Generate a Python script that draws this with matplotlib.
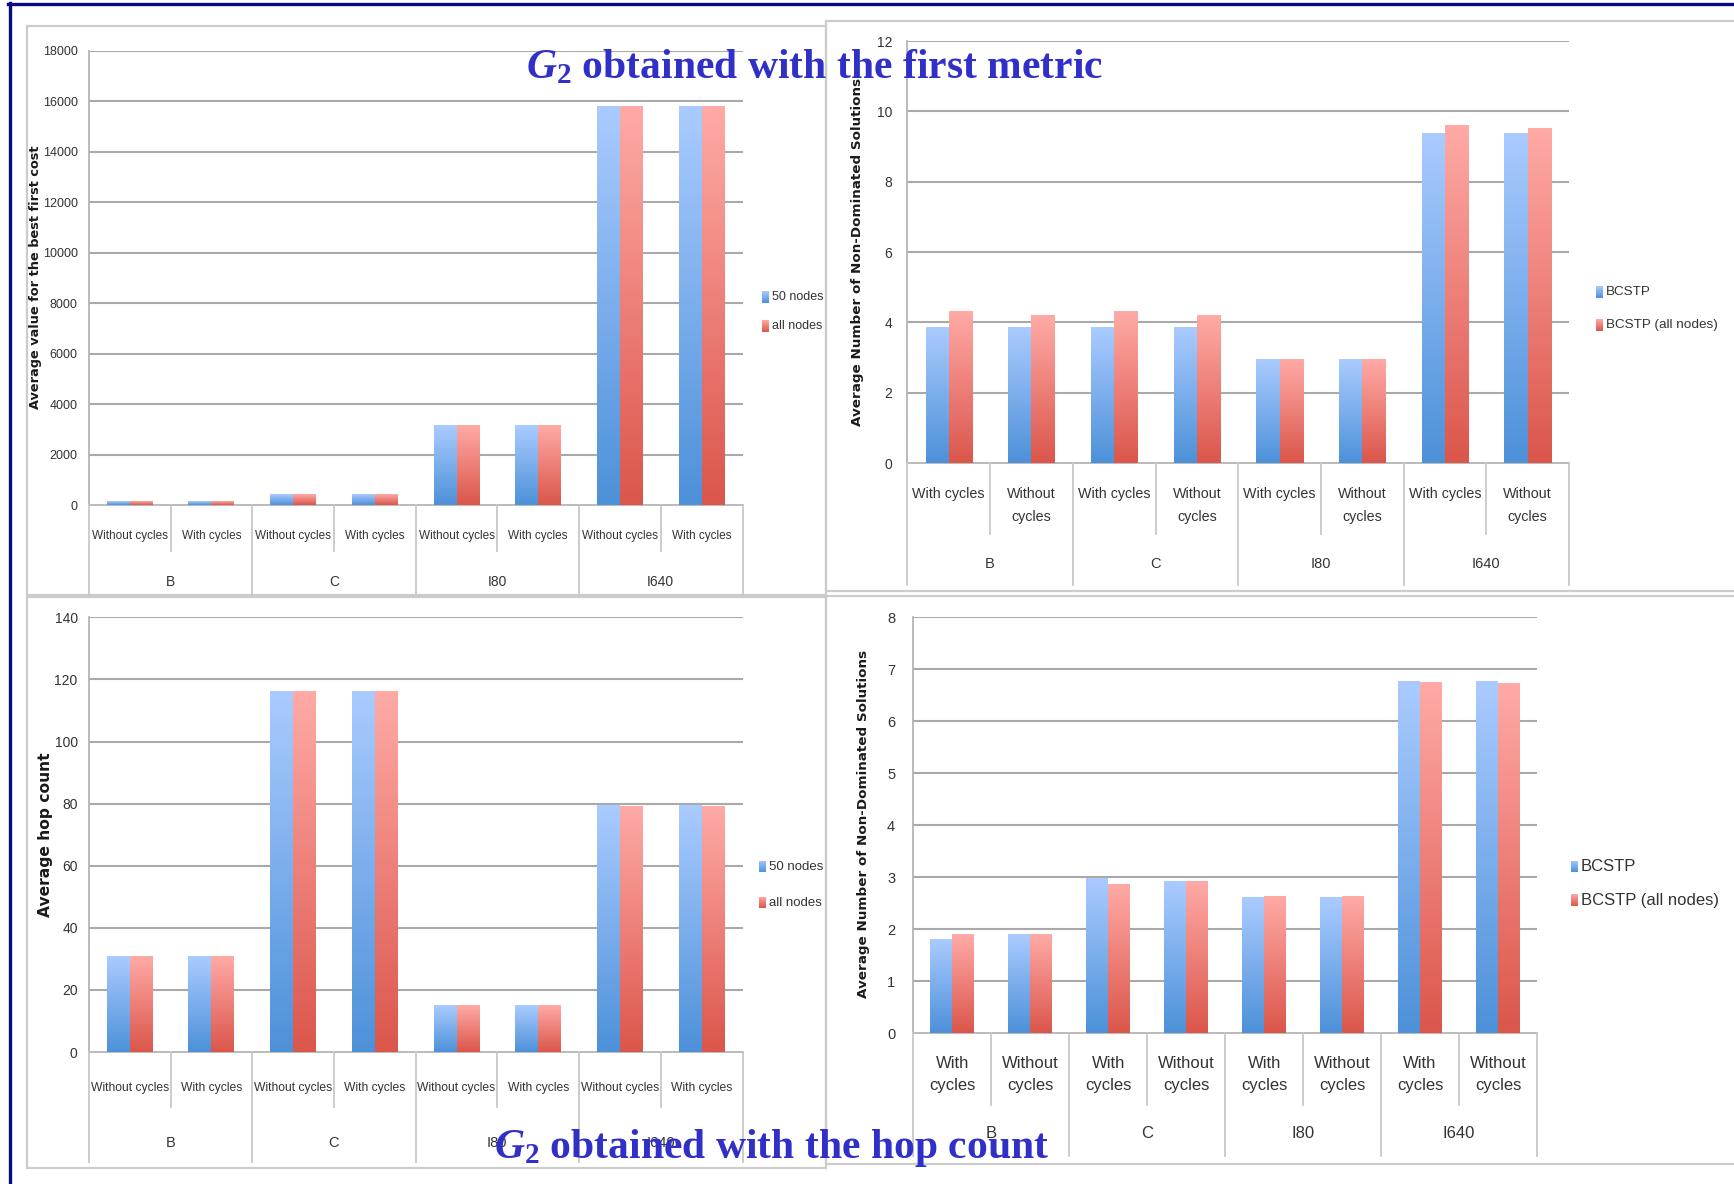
import numpy as np
import matplotlib.pyplot as plt
import matplotlib.colors as mcolors
from matplotlib.lines import Line2D
from matplotlib.patches import Rectangle
from matplotlib.transforms import blended_transform_factory

plt.rcParams['mathtext.fontset'] = 'custom'
plt.rcParams['mathtext.it'] = 'Liberation Serif:italic:bold'
plt.rcParams['mathtext.rm'] = 'Liberation Serif:bold'

W, H = 1734, 1184

groups = ['B', 'C', 'I80', 'I640']
cats_without_first = ['Without cycles', 'With cycles'] * 4
cats_with_first = ['With cycles', 'Without\ncycles'] * 4
cats_with_first_wrapped = ['With\ncycles', 'Without\ncycles'] * 4

# average value of the best first cost
cost_50_nodes = [120, 120, 400, 400, 3140, 3140, 15800, 15800]
cost_all_nodes = [120, 120, 400, 400, 3140, 3140, 15800, 15800]

# non-dominated solutions, G2 from the first metric
nd_first_bcstp = [3.86, 3.86, 3.86, 3.86, 2.94, 2.94, 9.36, 9.36]
nd_first_bcstp_all = [4.30, 4.19, 4.30, 4.19, 2.94, 2.94, 9.59, 9.52]

# average hop count
hop_50_nodes = [30.7, 30.7, 116.2, 116.2, 15.0, 15.0, 79.5, 79.5]
hop_all_nodes = [30.7, 30.7, 116.1, 116.1, 15.0, 15.0, 78.9, 78.9]

# non-dominated solutions, G2 from the hop count
nd_hop_bcstp = [1.79, 1.89, 2.97, 2.92, 2.60, 2.60, 6.76, 6.77]
nd_hop_bcstp_all = [1.89, 1.89, 2.86, 2.92, 2.62, 2.62, 6.74, 6.72]

BLUE = ('#aacbff', '#4d91d9')
RED = ('#ffaaa6', '#db564b')
SANS = ['Liberation Sans', 'DejaVu Sans']


def fx(px):
    return px / W


def fy(py):
    return 1 - py / H


def gradient(top, bottom, n=128):
    t = np.linspace(0, 1, n)[:, None]
    a = np.array(mcolors.to_rgb(top))
    b = np.array(mcolors.to_rgb(bottom))
    return (a * (1 - t) + b * t)[:, None, :]


def draw_panel(fig, p):
    left, top, right, bottom = p['axes']
    ax = fig.add_axes([fx(left), fy(bottom), (right - left) / W, (bottom - top) / H])
    ax.set_facecolor('none')

    fl, ft, fr, fb = p['frame']
    fig.add_artist(Rectangle((fx(fl), fy(fb)), (fr - fl) / W, (fb - ft) / H,
                             transform=fig.transFigure, fill=False,
                             edgecolor='#cccccc', lw=1.6, zorder=0))

    ticks = np.arange(0, p['ymax'] + p['ystep'] / 2, p['ystep'])
    for yt in ticks[1:]:
        ax.axhline(yt, color='#a9a9a9', lw=1.5, zorder=1)

    w = 0.28
    for i in range(8):
        xc = i + 0.5
        for k, (vals, col) in enumerate(zip(p['values'], (BLUE, RED))):
            x0 = xc - w if k == 0 else xc
            ax.imshow(gradient(*col), extent=[x0, x0 + w, 0, vals[i]],
                      aspect='auto', origin='upper', interpolation='bilinear',
                      zorder=3)

    ax.set_xlim(0, 8)
    ax.set_ylim(0, p['ymax'])
    ax.set_xticks([])
    ax.set_yticks(ticks)
    ax.set_yticklabels([f'{t:g}' for t in ticks])
    ax.tick_params(axis='y', length=0, pad=p['ypad'], labelsize=p['ytick_size'],
                   labelcolor='#333333')
    for lab in ax.get_yticklabels():
        lab.set_family(SANS)
    for side in ('top', 'right'):
        ax.spines[side].set_visible(False)
    for side in ('left', 'bottom'):
        ax.spines[side].set_color('#b5b5b5')
        ax.spines[side].set_linewidth(1.3)

    # two-level category axis below the plot
    tr = blended_transform_factory(ax.transData, fig.transFigure)
    for i in range(9):
        end = p['group_bottom'] if i % 2 == 0 else p['inner_bottom']
        fig.add_artist(Line2D([i, i], [fy(bottom), fy(end)], transform=tr,
                              color='#c8c8c8', lw=1.3))
    for i, cat in enumerate(p['cats']):
        for line, yrow in zip(cat.split('\n'), p['cat_rows']):
            fig.text(i + 0.5, fy(yrow), line, transform=tr, ha='center', va='center',
                     fontsize=p['cat_size'], family=SANS, color='#333333')
    for g, name in enumerate(groups):
        fig.text(2 * g + 1, fy(p['group_y']), name, transform=tr, ha='center',
                 va='center', fontsize=p['group_size'], family=SANS, color='#333333')

    lx, ly = p['ylabel_xy']
    fig.text(fx(lx), fy(ly), p['ylabel'], rotation=90, ha='center', va='center',
             fontsize=p['ylabel_size'], weight='bold', family='DejaVu Sans',
             color='#1a1a1a')

    # legend swatches
    for name, yl, col in zip(p['names'], p['legend_y'], (BLUE, RED)):
        sq = fig.add_axes([fx(p['legend_x']), fy(yl + 6), 7 / W, 12 / H])
        sq.imshow(gradient(*col), aspect='auto')
        sq.axis('off')
        fig.text(fx(p['legend_x'] + 10), fy(yl), name, ha='left', va='center',
                 fontsize=p['legend_size'], family=SANS, color='#333333')
    return ax


panels = [
    dict(axes=(88.8, 50.9, 742.5, 505.2), frame=(26.6, 26, 826, 595),
         ymax=18000, ystep=2000, values=(cost_50_nodes, cost_all_nodes),
         cats=cats_without_first, cat_rows=[535.8], group_y=581.7,
         inner_bottom=551, group_bottom=595,
         ylabel='Average value for the best first cost', ylabel_xy=(36, 277),
         ylabel_size=9.3, names=['50 nodes', 'all nodes'], legend_x=762,
         legend_y=[296.6, 326.4], legend_size=9,
         ytick_size=9, ypad=8, cat_size=8.5, group_size=10),
    dict(axes=(907.4, 41, 1569, 463), frame=(826, 21, 1745, 591),
         ymax=12, ystep=2, values=(nd_first_bcstp, nd_first_bcstp_all),
         cats=cats_with_first, cat_rows=[493.7, 516.6], group_y=564.5,
         inner_bottom=534, group_bottom=585,
         ylabel='Average Number of Non-Dominated Solutions', ylabel_xy=(858, 252),
         ylabel_size=9.7, names=['BCSTP', 'BCSTP (all nodes)'], legend_x=1596,
         legend_y=[291.6, 325.3], legend_size=9.7,
         ytick_size=10, ypad=11, cat_size=10.3, group_size=10.5),
    dict(axes=(88.8, 617.3, 742.5, 1052.1), frame=(26.6, 597, 826, 1167.6),
         ymax=140, ystep=20, values=(hop_50_nodes, hop_all_nodes),
         cats=cats_without_first, cat_rows=[1088], group_y=1143,
         inner_bottom=1107, group_bottom=1162,
         ylabel='Average hop count', ylabel_xy=(46, 835),
         ylabel_size=11.2, names=['50 nodes', 'all nodes'], legend_x=759,
         legend_y=[866.5, 902.5], legend_size=9.5,
         ytick_size=10, ypad=8, cat_size=8.7, group_size=10.5),
    dict(axes=(913.3, 617.3, 1537, 1033.2), frame=(826, 596, 1745, 1164),
         ymax=8, ystep=1, values=(nd_hop_bcstp, nd_hop_bcstp_all),
         cats=cats_with_first_wrapped, cat_rows=[1063.5, 1085.5], group_y=1134,
         inner_bottom=1105, group_bottom=1156,
         ylabel='Average Number of Non-Dominated Solutions', ylabel_xy=(863.7, 824),
         ylabel_size=9.7, names=['BCSTP', 'BCSTP (all nodes)'], legend_x=1571,
         legend_y=[866.5, 900], legend_size=12,
         ytick_size=10.5, ypad=13, cat_size=12, group_size=12),
]

fig = plt.figure(figsize=(W / 100, H / 100), dpi=100)

for p in panels:
    draw_panel(fig, p)

# slide border
fig.add_artist(Line2D([fx(8), 1], [fy(3.5), fy(3.5)], transform=fig.transFigure,
                      color='#0a0a80', lw=2.4))
fig.add_artist(Line2D([fx(10), fx(10)], [fy(3), 0], transform=fig.transFigure,
                      color='#0a0a80', lw=2.4))

title_kw = dict(fontsize=30, family='Liberation Serif', weight='bold',
                color='#3030c8', ha='left', va='baseline', zorder=10)
fig.text(fx(526), fy(78.5), r'$G_2$ obtained with the first metric', **title_kw)
fig.text(fx(494), fy(1158), r'$G_2$ obtained with the hop count', **title_kw)

fig.savefig('out.png', dpi=100)
